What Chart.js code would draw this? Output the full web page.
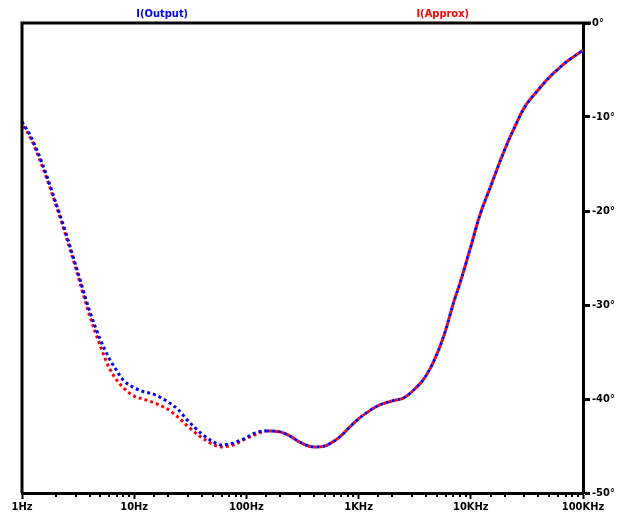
<!DOCTYPE html>
<html>
<head>
<meta charset="utf-8">
<script src="https://cdn.jsdelivr.net/npm/chart.js@4/dist/chart.umd.min.js"></script>
<style>
  body { margin: 0; background: #fff; }
  #wrap { width: 633px; height: 519px; }
</style>
</head>
<body>
<div id="wrap"><canvas id="myChart" width="633" height="519"></canvas></div>
<script>
// frequency points (Hz) and phase (degrees)
var freqs = [1, 1.2, 1.5, 2, 2.5, 3, 4, 5, 6, 7, 8, 10, 12, 15, 20, 25, 30, 40, 50, 60, 70, 80,
  100, 120, 150, 200, 250, 300, 400, 500, 600, 700, 800, 1000, 1200, 1500, 2000, 2500, 3000,
  4000, 5000, 6000, 7000, 8000, 10000, 12000, 15000, 20000, 25000, 30000, 40000, 50000,
  60000, 70000, 80000, 100000];
var outputPhase = [-10.5, -12.1, -14.8, -19.1, -22.6, -25.7, -30.6, -33.7, -35.7, -37.0, -38.0, -38.8,
  -39.2, -39.5, -40.3, -41.2, -42.3, -43.7, -44.5, -44.9, -44.8, -44.6,
  -44.1, -43.6, -43.4, -43.5, -44.0, -44.6, -45.1, -45.0, -44.5, -43.9, -43.2, -42.1, -41.4,
  -40.7, -40.2, -39.9, -39.2, -37.5, -35.2, -32.6, -29.8, -27.7, -23.8, -20.5, -17.4, -13.5,
  -10.9, -9.0, -7.1, -5.8, -4.9, -4.2, -3.7, -2.9];
var approxPhase = [-10.7, -12.3, -15.1, -19.3, -22.9, -26.0, -31.1, -34.4, -36.7, -38.0, -38.8, -39.7,
  -40.0, -40.4, -41.1, -42.0, -42.9, -44.1, -44.8, -45.1, -45.0, -44.8,
  -44.2, -43.8, -43.4, -43.5, -44.0, -44.6, -45.1, -45.0, -44.5, -43.9, -43.2, -42.1, -41.4,
  -40.7, -40.2, -39.9, -39.2, -37.5, -35.2, -32.6, -29.8, -27.7, -23.8, -20.5, -17.4, -13.5,
  -10.9, -9.0, -7.1, -5.8, -4.9, -4.2, -3.7, -2.9];
var seriesNames = ["I(Output)", "I(Approx)"];
var xTickValues = [1, 10, 100, 1000, 10000, 100000];
var xTickLabels = ["1Hz", "10Hz", "100Hz", "1KHz", "10KHz", "100KHz"];
var yTickValues = [0, -10, -20, -30, -40, -50];
var yTickLabels = ["0°", "-10°", "-20°", "-30°", "-40°", "-50°"];

// where the two traces lie on top of each other the dots should alternate,
// so both dash patterns restart at this frequency
var MERGE_AT = 150;

var FONT = '"DejaVu Sans Condensed", "DejaVu Sans", sans-serif';

function toPoints(ys) {
  var pts = [];
  for (var i = 0; i < freqs.length; i++) {
    pts.push({ x: freqs[i], y: ys[i] });
  }
  return pts;
}

function isDecade(v) {
  return xTickValues.indexOf(v) >= 0;
}

// frame lines, minor ticks and the two trace names on top
var framePlugin = {
  id: "frame",
  afterDraw: function (chart) {
    var ctx = chart.ctx;
    var a = chart.chartArea;
    ctx.save();
    ctx.strokeStyle = "#000";
    ctx.lineWidth = 3;
    ctx.beginPath();
    ctx.moveTo(a.left - 1.5, a.top);
    ctx.lineTo(a.right + 8, a.top);
    ctx.moveTo(a.left, a.top);
    ctx.lineTo(a.left, a.bottom);
    ctx.stroke();

    var xs = chart.scales.x;
    ctx.lineWidth = 2;
    ctx.beginPath();
    xs.ticks.forEach(function (t) {
      if (isDecade(t.value)) return;
      var px = Math.round(xs.getPixelForValue(t.value));
      ctx.moveTo(px, a.bottom);
      ctx.lineTo(px, a.bottom + 4);
    });
    ctx.stroke();

    ctx.font = "bold 11px " + FONT;
    ctx.textAlign = "center";
    ctx.textBaseline = "middle";
    chart.data.datasets.forEach(function (ds, i) {
      ctx.fillStyle = ds.borderColor;
      ctx.fillText(ds.label, a.left + (a.right - a.left) * (0.25 + 0.5 * i), 14);
    });
    ctx.restore();
  },
};

var ctx = document.getElementById("myChart").getContext("2d");
var myChart = new Chart(ctx, {
  type: "line",
  data: {
    datasets: [
      {
        label: seriesNames[0],
        data: toPoints(outputPhase),
        borderColor: "#0000ff",
        borderWidth: 3,
        borderDash: [3, 3],
        pointRadius: 0,
        cubicInterpolationMode: "monotone",
        fill: false,
        segment: {
          borderDashOffset: function (c) {
            return c.p0.parsed.x >= MERGE_AT ? 0 : 0.001;
          },
        },
      },
      {
        label: seriesNames[1],
        data: toPoints(approxPhase),
        borderColor: "#ff0000",
        borderWidth: 3,
        borderDash: [3, 3],
        pointRadius: 0,
        cubicInterpolationMode: "monotone",
        fill: false,
        segment: {
          borderDashOffset: function (c) {
            return c.p0.parsed.x >= MERGE_AT ? 3 : 3.001;
          },
        },
      },
    ],
  },
  options: {
    responsive: false,
    animation: false,
    layout: { padding: { left: 22, top: 23, right: 0, bottom: 0 } },
    plugins: {
      legend: { display: false },
      tooltip: { enabled: false },
    },
    scales: {
      x: {
        type: "logarithmic",
        min: 1,
        max: 100000,
        afterFit: function (s) { s.height = 26; },
        border: { display: true, color: "#000", width: 3 },
        grid: {
          drawOnChartArea: false,
          drawTicks: true,
          tickLength: 6,
          tickWidth: 2,
          tickColor: function (c) {
            return c.tick && isDecade(c.tick.value) ? "#000" : "rgba(0,0,0,0)";
          },
        },
        ticks: {
          autoSkip: false,
          maxRotation: 0,
          padding: 2,
          color: "#000",
          font: { family: FONT, size: 11, weight: "bold" },
          callback: function (v) {
            var i = xTickValues.indexOf(v);
            return i >= 0 ? xTickLabels[i] : "";
          },
        },
      },
      y: {
        position: "right",
        min: -50,
        max: 0,
        afterFit: function (s) { s.width = 50; },
        afterBuildTicks: function (s) {
          s.ticks = yTickValues.map(function (v) { return { value: v }; });
        },
        border: { display: true, color: "#000", width: 3 },
        grid: {
          drawOnChartArea: false,
          drawTicks: true,
          tickLength: 7,
          tickWidth: 3,
          tickColor: "#000",
        },
        ticks: {
          padding: 2,
          color: "#000",
          font: { family: FONT, size: 11, weight: "bold" },
          callback: function (v) {
            var i = yTickValues.indexOf(v);
            return i >= 0 ? yTickLabels[i] : "";
          },
        },
      },
    },
  },
  plugins: [framePlugin],
});
</script>
</body>
</html>
